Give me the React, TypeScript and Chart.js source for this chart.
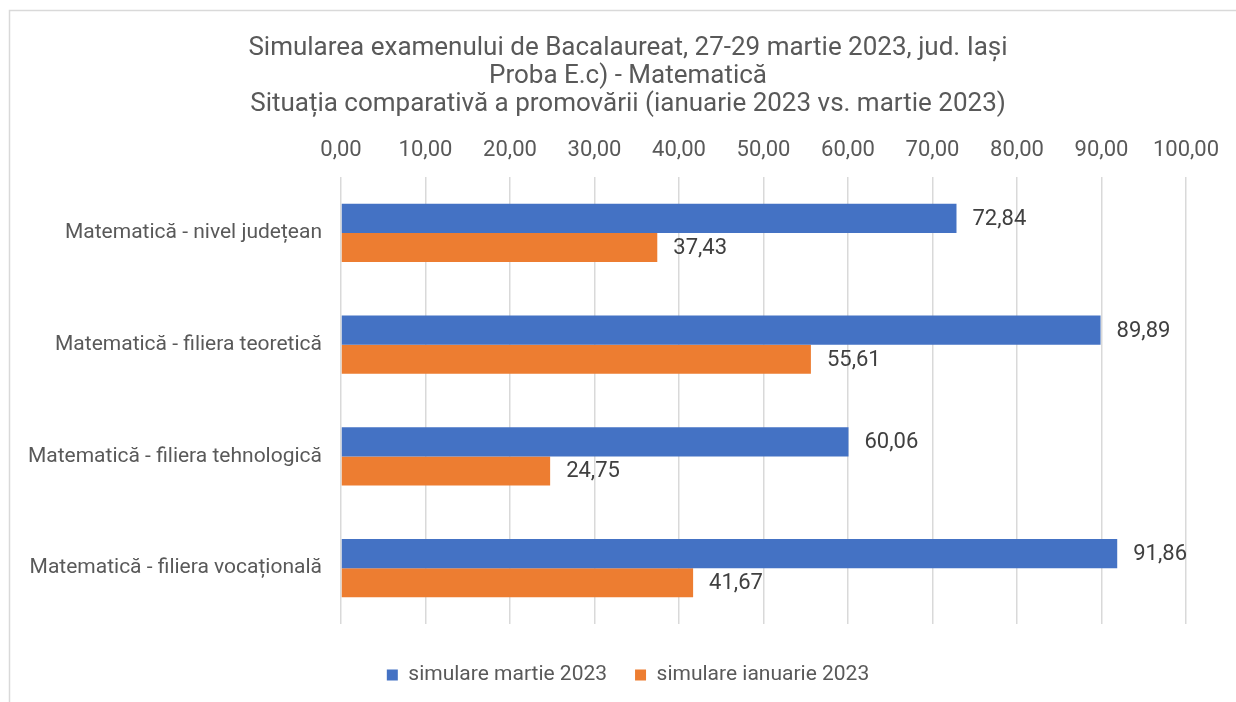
import React, { useEffect, useRef } from "react";
import { Chart, registerables } from "chart.js";

Chart.register(...registerables);

const titleLines = [
  "Simularea examenului de Bacalaureat, 27-29 martie 2023, jud. Iași",
  "Proba E.c) - Matematică",
  "Situația comparativă a promovării (ianuarie 2023 vs. martie 2023)",
];

const categories = [
  "Matematică - nivel județean",
  "Matematică - filiera teoretică",
  "Matematică - filiera tehnologică",
  "Matematică - filiera vocațională",
];

const seriesNames = ["simulare martie 2023", "simulare ianuarie 2023"];
const martie2023 = [72.84, 89.89, 60.06, 91.86];
const ianuarie2023 = [37.43, 55.61, 24.75, 41.67];

const axisMin = 0;
const axisMax = 100;
const axisStep = 10;

const fmt = (v: number) => v.toFixed(2).replace(".", ",");

const borderPlugin = {
  id: "outerBorder",
  beforeDraw(chart: any) {
    const ctx = chart.ctx;
    ctx.save();
    ctx.fillStyle = "#ffffff";
    ctx.fillRect(0, 0, chart.width, chart.height);
    ctx.strokeStyle = "#d9d9d9";
    ctx.lineWidth = 1.5;
    ctx.strokeRect(9.5, 10.5, chart.width + 50, chart.height + 50);
    ctx.restore();
  },
};

const valueLabelPlugin = {
  id: "valueLabels",
  afterDatasetsDraw(chart: any) {
    const ctx = chart.ctx;
    ctx.save();
    ctx.font = "22px Roboto";
    ctx.fillStyle = "#404040";
    ctx.textAlign = "left";
    ctx.textBaseline = "middle";
    chart.data.datasets.forEach((ds: any, di: number) => {
      const meta = chart.getDatasetMeta(di);
      meta.data.forEach((el: any, i: number) => {
        ctx.fillText(fmt(ds.data[i]), el.x + 16, el.y + 1);
      });
    });
    ctx.restore();
  },
};

export default function App() {
  const ref = useRef<HTMLCanvasElement | null>(null);
  useEffect(() => {
    if (!ref.current) return;
    Chart.defaults.font.family = "Roboto";
    const chart = new Chart(ref.current, {
      type: "bar",
      data: {
        labels: categories,
        datasets: [
          {
            label: seriesNames[0],
            data: martie2023,
            backgroundColor: "#4472C4",
            categoryPercentage: 0.52,
            barPercentage: 1.0,
          },
          {
            label: seriesNames[1],
            data: ianuarie2023,
            backgroundColor: "#ED7D31",
            categoryPercentage: 0.52,
            barPercentage: 1.0,
          },
        ],
      },
      options: {
        indexAxis: "y",
        animation: false,
        responsive: false,
        maintainAspectRatio: false,
        layout: { padding: { top: 34, left: 20, right: 0, bottom: 6.5 } },
        plugins: {
          title: {
            display: true,
            text: titleLines,
            color: "#595959",
            font: { size: 26, weight: "normal", lineHeight: 28 / 26 },
            padding: { top: 0, bottom: 0 },
          },
          legend: {
            display: true,
            position: "bottom",
            labels: {
              color: "#595959",
              font: { size: 21 },
              boxWidth: 11,
              boxHeight: 11,
              padding: 28,
            },
          },
          tooltip: { enabled: false },
        },
        scales: {
          x: {
            type: "linear",
            position: "top",
            min: axisMin,
            max: axisMax,
            ticks: {
              stepSize: axisStep,
              color: "#595959",
              font: { size: 22 },
              padding: 13,
              callback: (v: any) => fmt(Number(v)),
            },
            grid: { color: "#d9d9d9", lineWidth: 1.5, drawTicks: false },
            border: { display: false },
            afterFit: (s: any) => {
              s.height = 59;
            },
          },
          x2: {
            type: "linear",
            position: "bottom",
            display: true,
            ticks: { display: false },
            grid: { display: false, drawTicks: false },
            border: { display: false },
            afterFit: (s: any) => {
              s.height = 12.5;
            },
          },
          y: {
            ticks: { color: "#595959", font: { size: 21 }, padding: 19 },
            grid: { display: false, drawTicks: false },
            border: { display: false },
            afterFit: (s: any) => {
              s.width = 321;
            },
          },
          y2: {
            type: "linear",
            position: "right",
            display: true,
            ticks: { display: false },
            grid: { display: false, drawTicks: false },
            border: { display: false },
            afterFit: (s: any) => {
              s.width = 50;
            },
          },
        },
      },
      plugins: [borderPlugin, valueLabelPlugin],
    });
    return () => chart.destroy();
  }, []);
  return (
    <div style={{ position: "fixed", left: 0, top: 0, width: 1236, height: 702 }}>
      <canvas ref={ref} width={1236} height={702} style={{ width: 1236, height: 702 }} />
    </div>
  );
}
